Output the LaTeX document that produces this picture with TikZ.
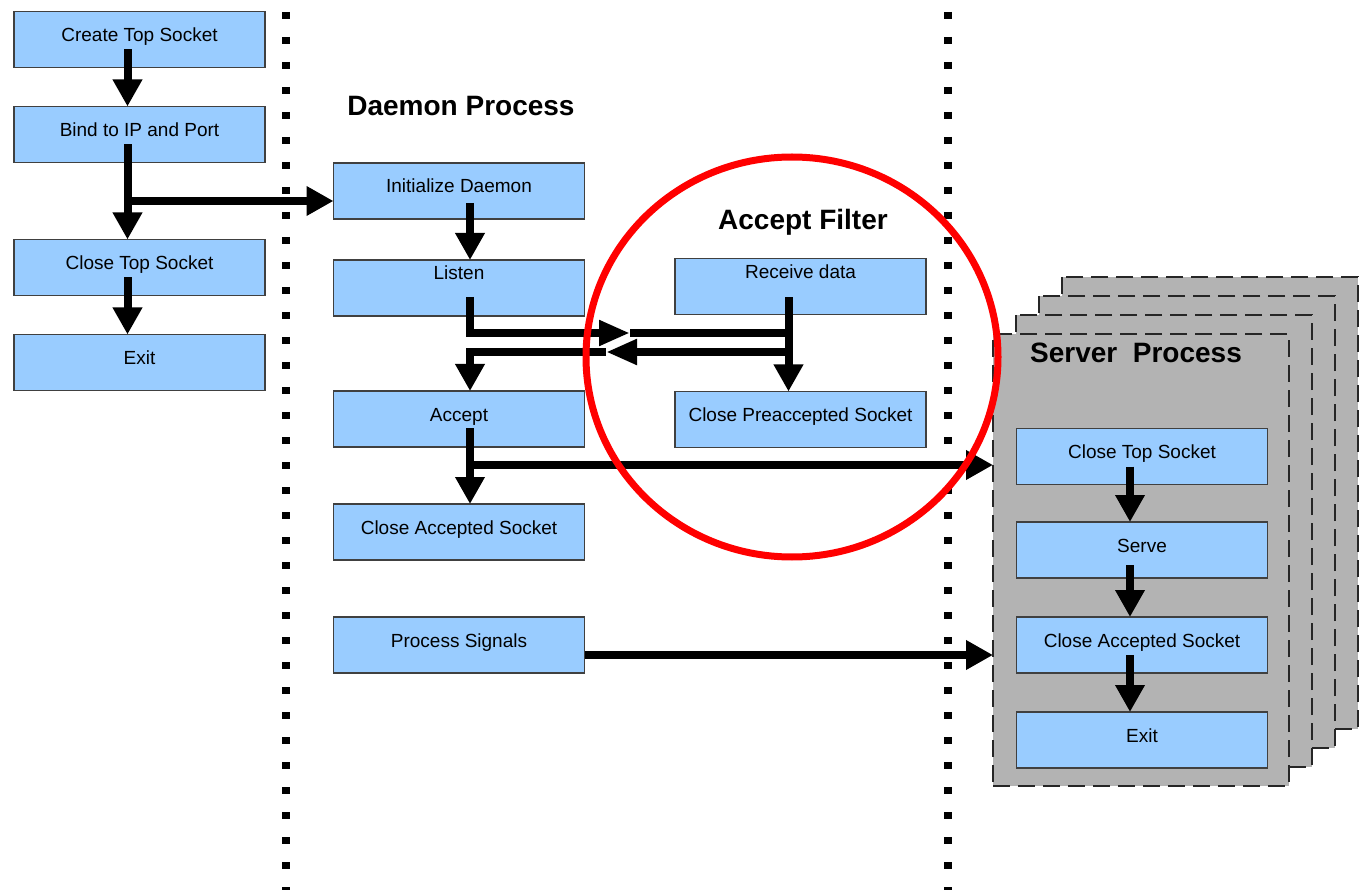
\documentclass[tikz,border=0pt]{standalone}
\usepackage{fontspec}
\setmainfont{Liberation Sans}
\usetikzlibrary{arrows.meta}
\definecolor{boxblue}{HTML}{99CCFF}
\definecolor{panelgray}{HTML}{B3B3B3}
\begin{document}
\begin{tikzpicture}[x=1pt,y=-1pt,
  box/.style={draw=black!75,line width=1.2pt,fill=boxblue,minimum width=251pt,minimum height=56pt,
    inner sep=0pt,outer sep=0pt,text height=13pt,text depth=9pt,font=\fontsize{19}{22}\selectfont},
  hightext/.style={text depth=29pt},
  title/.style={inner sep=0pt,text height=20pt,text depth=0pt,font=\fontsize{28}{32}\selectfont\bfseries},
  bar/.style={line width=8pt},
  flow/.style={bar,-{Triangle[length=27pt,width=28pt]}},
  sflow/.style={bar,-{Triangle[length=31pt,width=24pt]}},
  sep/.style={line width=8pt,dash pattern=on 7pt off 18pt},
  panel/.style={fill=panelgray,draw=black!85,line width=1.3pt,dash pattern=on 17pt off 8pt}]
\useasboundingbox (0,0) rectangle (1360,890);

% separators
\draw[sep] (286,12) -- (286,890);
\draw[sep] (948,12) -- (948,890);

% server panels
\foreach \i in {3,2,1}
  \draw[panel] (993+23*\i,334-19*\i) rectangle (1289+23*\i,786-19*\i);
\node[panel,minimum width=296pt,minimum height=452pt,inner sep=0pt,outer sep=0pt] (srv) at (1141,560) {};

% titles
\node[title] (daemonlbl) at (461,106) {Daemon Process};
\node[title] (filterlbl) at (803,220) {Accept Filter};
\node[title,anchor=west] (serverlbl) at (1030,353) {Server\ \ Process};

% top level
\node[box] (create) at (139.5,39.5) {Create Top Socket};
\node[box] (bind) at (139.5,134.5) {Bind to IP and Port};
\node[box] (closetop) at (139.5,267.5) {Close Top Socket};
\node[box] (exit) at (139.5,362.5) {Exit};

% daemon
\node[box] (init) at (459,191) {Initialize Daemon};
\node[box,hightext] (listen) at (459,288) {Listen};
\node[box] (accept) at (459,419) {Accept};
\node[box] (closeacc) at (459,532) {Close Accepted Socket};
\node[box] (signals) at (459,645) {Process Signals};

% filter
\node[box,hightext] (recv) at (800.5,286.5) {Receive data};
\node[box] (closepre) at (800.5,419.5) {Close Preaccepted Socket};

% server
\node[box] (sclosetop) at (1142,456.5) {Close Top Socket};
\node[box] (serve) at (1142,550) {Serve};
\node[box] (sclose) at (1142,645) {Close Accepted Socket};
\node[box] (sexit) at (1142,740) {Exit};

% arrows
\draw[flow] ([xshift=-12pt,yshift=-10pt]create.center) -- ([xshift=-12pt]bind.north);
\draw[flow] ([xshift=-12pt,yshift=-10pt]bind.center) -- ([xshift=-12pt]closetop.north);
\coordinate (fork1) at (127.5,201);
\draw[flow] (fork1) -- (fork1 -| init.west);
\draw[flow] ([xshift=-12pt,yshift=-10pt]closetop.center) -- ([xshift=-12pt]exit.north);

\draw[flow] ([xshift=11pt,yshift=-12pt]init.center) -- ([xshift=11pt]listen.north);
\coordinate (tofilter) at (630,333);
\coordinate (fromfilter) at (606,352);
\coordinate (rtop) at ([xshift=-12pt,yshift=-11pt]recv.center);
\draw[sflow] ([xshift=11pt,yshift=-9pt]listen.center) |- (tofilter);
\draw[bar] (tofilter) -- (tofilter -| rtop);
\draw[flow] (rtop) -- ([xshift=-12pt]closepre.north);
\draw[sflow] (fromfilter -| rtop) -- (fromfilter);
\draw[flow] (fromfilter) -| ([xshift=11pt]accept.north);

\draw[flow] ([xshift=11pt,yshift=-9pt]accept.center) -- ([xshift=11pt]closeacc.north);
\coordinate (fork2) at (470,465);
\draw[flow] (fork2) -- (fork2 -| srv.west);
\draw[flow] ([yshift=-10pt]signals.east) -- ([yshift=-10pt]signals.east -| srv.west);

\draw[flow] ([xshift=-12pt,yshift=-10pt]sclosetop.center) -- ([xshift=-12pt]serve.north);
\draw[flow] ([xshift=-12pt,yshift=-15pt]serve.center) -- ([xshift=-12pt]sclose.north);
\draw[flow] ([xshift=-12pt,yshift=-10pt]sclose.center) -- ([xshift=-12pt]sexit.north);

% filter ring
\draw[red,line width=7pt] (792,357) ellipse [x radius=206pt,y radius=200pt];
\end{tikzpicture}
\end{document}
